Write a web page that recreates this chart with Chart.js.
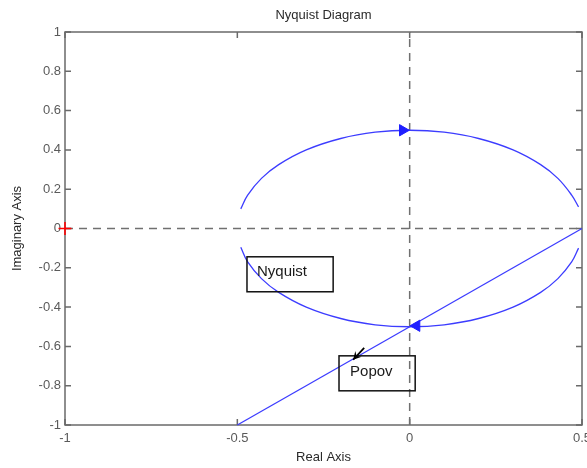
<!DOCTYPE html>
<html>
<head>
<meta charset="utf-8">
<script src="https://cdn.jsdelivr.net/npm/chart.js@4.4.1/dist/chart.umd.min.js"></script>
<style>
  html, body { margin: 0; padding: 0; background: #fff; }
  canvas { display: block; }
</style>
</head>
<body>
<canvas id="nyquistChart" width="587" height="468"></canvas>
<script>
// Nyquist curve, upper half (traced left -> right)
const upperX = [-0.49, -0.47, -0.43, -0.38, -0.30, -0.20, -0.10, 0.00, 0.10, 0.20, 0.30, 0.38, 0.43, 0.47, 0.49];
const upperY = [0.10, 0.17, 0.255, 0.325, 0.40, 0.458, 0.49, 0.50, 0.49, 0.458, 0.40, 0.325, 0.255, 0.17, 0.11];
// Nyquist curve, lower half (traced right -> left)
const lowerX = [0.49, 0.47, 0.43, 0.38, 0.30, 0.20, 0.10, 0.00, -0.10, -0.20, -0.30, -0.38, -0.43, -0.47, -0.49];
const lowerY = [-0.10, -0.17, -0.255, -0.325, -0.40, -0.458, -0.49, -0.50, -0.49, -0.458, -0.40, -0.325, -0.255, -0.17, -0.095];
// Popov line
const popovX = [-0.5, 0.5];
const popovY = [-1, 0];
// direction arrows on the Nyquist curve
const arrowRightX = [-0.02], arrowRightY = [0.5];
const arrowLeftX = [0.02], arrowLeftY = [-0.495];
// critical point
const critX = [-1], critY = [0];
// dashed axes through the origin
const hAxisX = [-1, 0.5], hAxisY = [0, 0];
const vAxisX = [0, 0], vAxisY = [-1, 1];
// tick values
const xTicks = [-1, -0.5, 0, 0.5];
const yTicks = [-1, -0.8, -0.6, -0.4, -0.2, 0, 0.2, 0.4, 0.6, 0.8, 1];

// text annotations (data coordinates)
const notes = [
  { text: 'Nyquist', box: [-0.472, -0.144, -0.222, -0.322], tx: -0.443, ty: -0.221 },
  { text: 'Popov', box: [-0.205, -0.648, 0.016, -0.826], tx: -0.173, ty: -0.729 }
];
const popovArrow = { from: [-0.132, -0.607], to: [-0.164, -0.668] };

const pts = (xs, ys) => xs.map((x, i) => ({ x: x, y: ys[i] }));
const BLUE = '#3c3cff';
const FONT = "'Liberation Sans', Arial, Helvetica, sans-serif";
Chart.defaults.font.family = FONT;

const framePlugin = {
  id: 'frame',
  beforeDatasetsDraw(chart) {
    // box around the plot with inward ticks
    const { ctx, chartArea: a, scales: { x, y } } = chart;
    ctx.save();
    ctx.strokeStyle = '#6a6a6a';
    ctx.lineWidth = 1.5;
    ctx.strokeRect(a.left, a.top, a.right - a.left, a.bottom - a.top);
    ctx.beginPath();
    xTicks.forEach(v => {
      const px = x.getPixelForValue(v);
      ctx.moveTo(px, a.bottom); ctx.lineTo(px, a.bottom - 6);
      ctx.moveTo(px, a.top); ctx.lineTo(px, a.top + 6);
    });
    yTicks.forEach(v => {
      const py = y.getPixelForValue(v);
      ctx.moveTo(a.left, py); ctx.lineTo(a.left + 6, py);
      ctx.moveTo(a.right, py); ctx.lineTo(a.right - 6, py);
    });
    ctx.stroke();
    ctx.restore();
  },
  afterDatasetsDraw(chart) {
    const { ctx, scales: { x, y } } = chart;
    ctx.save();

    // annotation boxes + text
    ctx.strokeStyle = '#111';
    ctx.lineWidth = 1.5;
    ctx.fillStyle = '#1a1a1a';
    ctx.font = '15px ' + FONT;
    ctx.textBaseline = 'middle';
    notes.forEach(n => {
      const x1 = x.getPixelForValue(n.box[0]), y1 = y.getPixelForValue(n.box[1]);
      const x2 = x.getPixelForValue(n.box[2]), y2 = y.getPixelForValue(n.box[3]);
      ctx.strokeRect(x1, y1, x2 - x1, y2 - y1);
      ctx.fillText(n.text, x.getPixelForValue(n.tx), y.getPixelForValue(n.ty));
    });

    // small black arrow pointing at the Popov line
    const fx = x.getPixelForValue(popovArrow.from[0]), fy = y.getPixelForValue(popovArrow.from[1]);
    const hx = x.getPixelForValue(popovArrow.to[0]), hy = y.getPixelForValue(popovArrow.to[1]);
    const ang = Math.atan2(hy - fy, hx - fx);
    ctx.strokeStyle = '#000';
    ctx.lineWidth = 1.8;
    ctx.beginPath();
    ctx.moveTo(fx, fy);
    ctx.lineTo(hx, hy);
    ctx.stroke();
    ctx.fillStyle = '#000';
    ctx.beginPath();
    ctx.moveTo(hx, hy);
    ctx.lineTo(hx - 9 * Math.cos(ang - 0.5), hy - 9 * Math.sin(ang - 0.5));
    ctx.lineTo(hx - 5 * Math.cos(ang), hy - 5 * Math.sin(ang));
    ctx.lineTo(hx - 9 * Math.cos(ang + 0.5), hy - 9 * Math.sin(ang + 0.5));
    ctx.closePath();
    ctx.fill();
    ctx.restore();
  }
};

// drop the room Chart.js keeps for the edge tick labels (they may spill like the original)
const noEdgePadding = s => {
  s.paddingLeft = s.paddingRight = s.paddingTop = s.paddingBottom = 0;
};

const ctx = document.getElementById('nyquistChart').getContext('2d');
const chart = new Chart(ctx, {
  type: 'scatter',
  data: {
    datasets: [
      { data: pts(critX, critY), pointStyle: 'cross', pointRadius: 6.5, borderColor: '#ff0000', borderWidth: 1.6, clip: false, order: 0 },
      { data: pts(arrowRightX, arrowRightY), pointStyle: 'triangle', rotation: 90, pointRadius: 6.5, backgroundColor: '#1f1fff', borderColor: '#1f1fff', order: 1 },
      { data: pts(arrowLeftX, arrowLeftY), pointStyle: 'triangle', rotation: 270, pointRadius: 6.5, backgroundColor: '#1f1fff', borderColor: '#1f1fff', order: 1 },
      { data: pts(upperX, upperY), showLine: true, tension: 0.4, borderColor: BLUE, borderWidth: 1.3, pointRadius: 0, clip: 4, order: 2 },
      { data: pts(lowerX, lowerY), showLine: true, tension: 0.4, borderColor: BLUE, borderWidth: 1.3, pointRadius: 0, clip: 4, order: 2 },
      { data: pts(popovX, popovY), showLine: true, borderColor: BLUE, borderWidth: 1.3, pointRadius: 0, clip: 4, order: 2 },
      { data: pts(hAxisX, hAxisY), showLine: true, borderColor: '#707070', borderWidth: 1.5, borderDash: [8, 6], pointRadius: 0, order: 3 },
      { data: pts(vAxisX, vAxisY), showLine: true, borderColor: '#707070', borderWidth: 1.5, borderDash: [8, 6], pointRadius: 0, order: 3 }
    ]
  },
  options: {
    responsive: false,
    animation: false,
    layout: { autoPadding: false, padding: { left: 0, right: 5, top: 0, bottom: 0 } },
    plugins: {
      legend: { display: false },
      tooltip: { enabled: false },
      title: {
        display: true,
        text: 'Nyquist Diagram',
        fullSize: false,
        color: '#2a2a2a',
        font: { size: 13, weight: 'normal', lineHeight: 1 },
        padding: { top: 9, bottom: 10 }
      }
    },
    scales: {
      x: {
        type: 'linear',
        min: -1, max: 0.5,
        afterBuildTicks: s => { s.ticks = xTicks.map(v => ({ value: v })); },
        afterFit: s => { s.height = 43; noEdgePadding(s); },
        grid: { display: false, drawTicks: false },
        border: { display: false },
        ticks: { color: '#5a5a5a', font: { size: 13 }, padding: 6, maxRotation: 0, callback: v => String(v) },
        title: { display: true, text: 'Real Axis', color: '#2a2a2a', font: { size: 13 }, padding: { top: 0, bottom: 3 } }
      },
      y: {
        type: 'linear',
        min: -1, max: 1,
        afterBuildTicks: s => { s.ticks = yTicks.map(v => ({ value: v })); },
        afterFit: s => { s.width = 65; noEdgePadding(s); },
        grid: { display: false, drawTicks: false },
        border: { display: false },
        ticks: { color: '#5a5a5a', font: { size: 13 }, padding: 4, callback: v => String(v) },
        title: { display: true, text: 'Imaginary Axis', color: '#2a2a2a', font: { size: 13 }, padding: { top: 10, bottom: 0 } }
      }
    }
  },
  plugins: [framePlugin]
});
</script>
</body>
</html>
